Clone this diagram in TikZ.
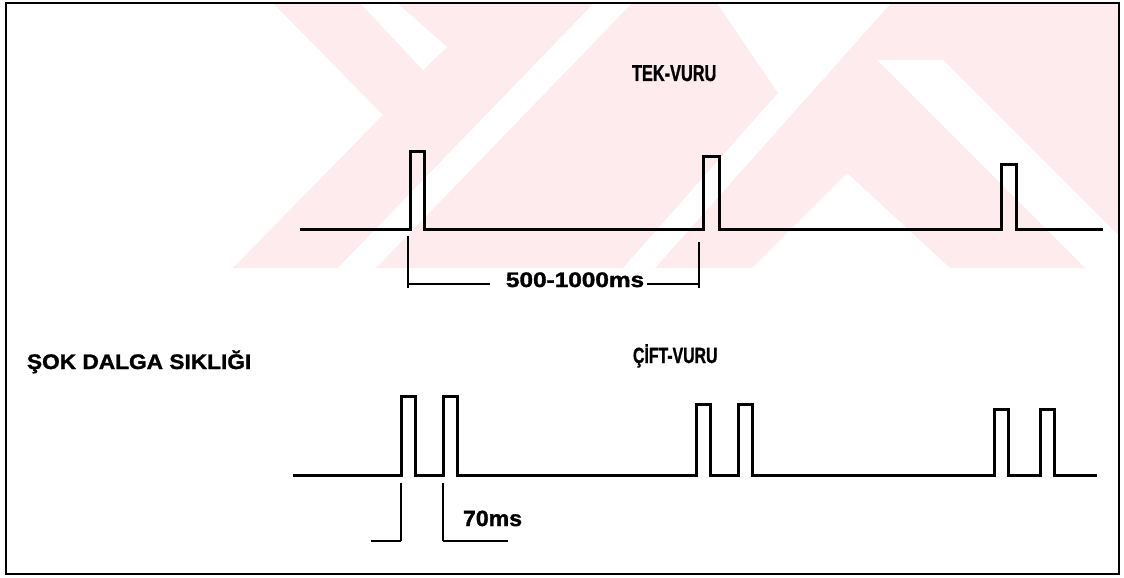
\documentclass[tikz,border=0pt]{standalone}
\usepackage{fontspec}
\setmainfont{Liberation Sans}
\newfontfamily\lblfont{Liberation Sans Bold}[FakeBold=1.4]
\definecolor{wm}{RGB}{253,235,238}
\begin{document}
\begin{tikzpicture}[x=1pt,y=-1pt,
  wave/.style={line width=3pt, line join=miter},
  dimline/.style={line width=2.4pt},
  dimtick/.style={line width=1.6pt},
  frame/.style={line width=2pt},
  lbl/.style={inner sep=0pt, outer sep=0pt, anchor=base west, font=\lblfont}]
\useasboundingbox (0,0) rectangle (1124,578);
\fill[white] (0,0) rectangle (1124,578);
% watermark
\fill[wm] (273,3) -- (1118,3) -- (1118,268) -- (233,268) -- (383,115) -- cycle;
\fill[white] (360,3) -- (397,3) -- (447,47) -- (423,70) -- cycle;
\fill[white] (338,268) -- (376,268) -- (632,3) -- (594,3) -- cycle;
\fill[white] (623,268) -- (655,268) -- (891,3) -- (717,3) -- (778,93) -- cycle;
\fill[white] (847,173) -- (752,268) -- (950,268) -- cycle;
\fill[white] (877,60) -- (943,60) -- (1118,235) -- (1118,268) -- (1085,268) -- cycle;
% frame
\draw[frame] (6,3) rectangle (1119,574);
% single pulses
\draw[wave] (300,229) -- (410,229) -- (410,151) -- (424,151) -- (424,229)
  -- (703,229) -- (703,156) -- (719,156) -- (719,229)
  -- (1001,229) -- (1001,164) -- (1016,164) -- (1016,229) -- (1103,229);
% period dimension
\node[lbl] (t500) at (506,287) {\scalebox{1.16}[1]{\fontsize{21}{21}\selectfont 500-1000ms}};
\coordinate (d1a) at (408,236);
\coordinate (d1b) at (408,288);
\coordinate (d1c) at (408,284);
\coordinate (d1d) at (490,284);
\coordinate (d2a) at (699,242);
\coordinate (d2b) at (699,288);
\coordinate (d2c) at (647,284);
\coordinate (d2d) at (699,284);
\draw[dimtick] (d1a) -- (d1b);
\draw[dimline] (d1c) -- (d1d);
\draw[dimline] (d2c) -- (d2d);
\draw[dimtick] (d2a) -- (d2b);
% double pulses
\draw[wave] (293,475) -- (401,475) -- (401,396) -- (415,396) -- (415,475)
  -- (443,475) -- (443,396) -- (457,396) -- (457,475)
  -- (696,475) -- (696,404) -- (710,404) -- (710,475)
  -- (738,475) -- (738,404) -- (752,404) -- (752,475)
  -- (994,475) -- (994,409) -- (1008,409) -- (1008,475)
  -- (1040,475) -- (1040,409) -- (1054,409) -- (1054,475) -- (1097,475);
% 70 ms dimension
\coordinate (e1a) at (371,541);
\coordinate (e1b) at (401,541);
\coordinate (e1c) at (401,483);
\coordinate (e2a) at (443,483);
\coordinate (e2b) at (443,541);
\coordinate (e2c) at (508,541);
\draw[dimline] (e1a) -- (e1b);
\draw[dimtick] (e1b) -- (e1c);
\draw[dimtick] (e2a) -- (e2b);
\draw[dimline] (e2b) -- (e2c);
\node[lbl] (t70) at (463,526) {\scalebox{1.05}[1]{\fontsize{22}{22}\selectfont 70ms}};
% labels
\node[lbl] (tek) at (632,81) {\scalebox{0.71}[1]{\fontsize{23}{23}\selectfont TEK-VURU}};
\node[lbl] (cift) at (633,363) {\scalebox{0.72}[1]{\fontsize{22}{22}\selectfont ÇİFT-VURU}};
\node[lbl] (sok) at (27,369) {\scalebox{1.08}[1]{\fontsize{21}{21}\selectfont ŞOK DALGA SIKLIĞI}};
\end{tikzpicture}
\end{document}
